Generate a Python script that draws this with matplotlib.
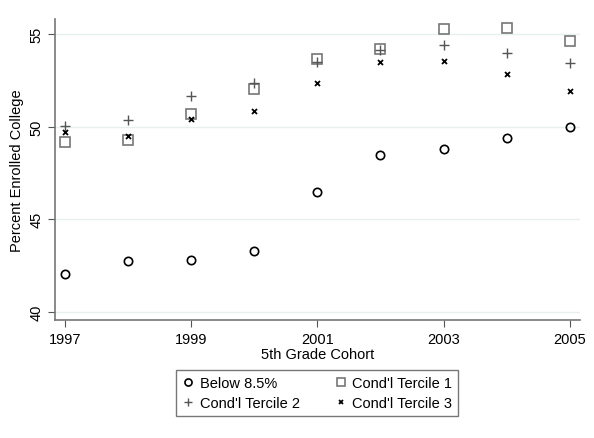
import numpy as np
import matplotlib.pyplot as plt

plt.rcParams['font.family'] = ['Liberation Sans', 'DejaVu Sans']

# Data
years = [1997, 1998, 1999, 2000, 2001, 2002, 2003, 2004, 2005]
below85 = [42.05, 42.75, 42.8, 43.3, 46.5, 48.45, 48.8, 49.4, 50.0]
tercile1 = [49.15, 49.3, 50.7, 52.05, 53.65, 54.2, 55.25, 55.35, 54.65]
tercile2 = [50.05, 50.35, 51.65, 52.35, 53.5, 54.15, 54.4, 53.95, 53.45]
tercile3 = [49.7, 49.5, 50.4, 50.85, 52.35, 53.5, 53.55, 52.85, 51.9]

xticks = [1997, 1999, 2001, 2003, 2005]
yticks = [40, 45, 50, 55]

fig = plt.figure(figsize=(5.94, 4.39), dpi=100)
ax = fig.add_axes([0.0926, 0.269, 0.8835, 0.685])

p0, = ax.plot(years, below85, 'o', mfc='none', mec='black', mew=1.2, ms=6, label='Below 8.5%')
p1, = ax.plot(years, tercile1, 's', mfc='none', mec='#777777', mew=1.2, ms=6.5, label="Cond'l Tercile 1")
p2, = ax.plot(years, tercile2, '+', color='#555555', mew=1.0, ms=7, label="Cond'l Tercile 2")
p3, = ax.plot(years, tercile3, 'x', color='black', mew=1.3, ms=3.6, label="Cond'l Tercile 3")

ax.set_xlim(1996.84, 2005.16)
ax.set_ylim(39.57, 55.8)
ax.set_xticks(xticks)
ax.set_yticks(yticks)
ax.set_yticklabels([str(t) for t in yticks], rotation=90, va='center')
ax.tick_params(direction='out', length=5, color='#555555', labelsize=10.5)
ax.grid(True, axis='y', color='#e6f0f1', linewidth=1)
ax.set_axisbelow(True)

for s in ['top', 'right']:
    ax.spines[s].set_visible(False)
for s in ['left', 'bottom']:
    ax.spines[s].set_color('#777777')
    ax.spines[s].set_linewidth(1.2)

ax.set_xlabel('5th Grade Cohort', fontsize=10.5, labelpad=1)
ax.set_ylabel('Percent Enrolled College', fontsize=10.5, labelpad=4)

# row-major order like the original legend
handles = [p0, p2, p1, p3]
labels = [h.get_label() for h in handles]
leg = fig.legend(handles, labels, ncol=2, loc='center', bbox_to_anchor=(0.534, 1 - 394 / 439),
                 frameon=True, fancybox=False, edgecolor='#555555', fontsize=10.5,
                 handletextpad=0.4, columnspacing=2.4, borderpad=0.4, labelspacing=0.45,
                 handlelength=0.8, markerscale=0.85)
leg.get_frame().set_linewidth(1.0)

fig.savefig('out.png', dpi=100, facecolor='white')
